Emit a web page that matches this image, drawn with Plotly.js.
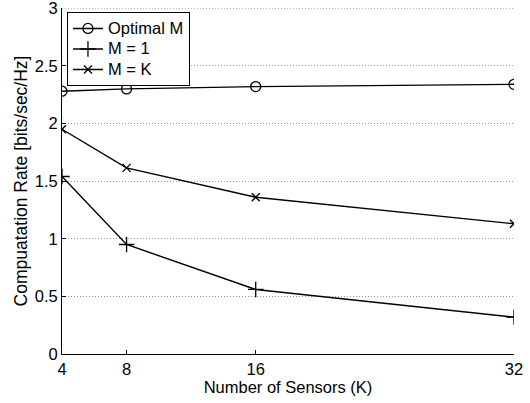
<!DOCTYPE html>
<html><head><meta charset="utf-8">
<script src="https://cdn.plot.ly/plotly-3.0.1.min.js"></script>
<style>html,body{margin:0;padding:0;background:#fff}#chart{width:530px;height:403px}</style>
</head><body><div id="chart"></div>
<script>
const sensors = [4, 8, 16, 32];
const optimalM = [2.28, 2.30, 2.32, 2.34];
const mOne = [1.54, 0.95, 0.56, 0.32];
const mK = [1.95, 1.615, 1.36, 1.13];
const seriesNames = ['Optimal M', 'M = 1', 'M = K'];
const xTicks = [4, 8, 16, 32];
const yTicks = [0, 0.5, 1, 1.5, 2, 2.5, 3];
const yTickText = ['0', '0.5', '1', '1.5', '2', '2.5', '3'];

const lineStyle = {color: '#000', width: 1.4};
const nm = (s) => '<span style="font-size:16.5px">' + s + '</span>';
const traces = [
  {x: sensors, y: optimalM, name: nm(seriesNames[0]), mode: 'lines+markers', line: lineStyle,
   marker: {symbol: 'circle-open', size: 10, color: '#000', line: {width: 1.3, color: '#000'}}},
  {x: sensors, y: mOne, name: nm(seriesNames[1]), mode: 'lines+markers', line: lineStyle,
   marker: {symbol: 'cross-thin-open', size: 11, color: '#000', line: {width: 1.3, color: '#000'}}},
  {x: sensors, y: mK, name: nm(seriesNames[2]), mode: 'lines+markers', line: lineStyle,
   marker: {symbol: 'x-thin-open', size: 8, color: '#000', line: {width: 1.3, color: '#000'}}}
];
const fam = 'Liberation Sans, Arial, sans-serif';
const f = (s) => ({family: fam, color: '#000', size: s});
const yTop = yTicks[yTicks.length - 1];
const layout = {
  width: 530, height: 403,
  margin: {l: 62, r: 16, t: 8, b: 49},
  paper_bgcolor: '#fff', plot_bgcolor: '#fff',
  font: f(16),
  showlegend: true,
  legend: {x: 0.011, y: 0.988, xanchor: 'left', yanchor: 'top', bgcolor: '#fff',
           bordercolor: '#000', borderwidth: 1, font: f(13.5),
           tracegroupgap: 0, itemwidth: 30},
  shapes: [{type: 'line', xref: 'paper', yref: 'y', x0: 0, x1: 1, y0: yTop, y1: yTop,
            layer: 'below', line: {color: '#9a9a9a', width: 1, dash: '1px,2px'}}],
  xaxis: {range: [4, 32], tickvals: xTicks, ticktext: xTicks.map(String), showgrid: false,
          zeroline: false, showline: true, linecolor: '#000', linewidth: 1,
          ticks: 'inside', ticklen: 4, tickcolor: '#000', tickfont: f(16.5),
          ticklabeloverflow: 'allow',
          title: {text: 'Number of Sensors (K)', font: f(16.5), standoff: 1}},
  yaxis: {range: [0, 3.002], tickvals: yTicks, ticktext: yTickText,
          showgrid: true, gridcolor: '#9a9a9a', griddash: '1px,2px', gridwidth: 1,
          zeroline: false, showline: true, linecolor: '#000', linewidth: 1,
          ticks: 'inside', ticklen: 4, tickcolor: '#000', tickfont: f(16.5),
          ticklabeloverflow: 'allow',
          title: {text: 'Compuatation Rate [bits/sec/Hz]', font: f(17.5), standoff: 2}}
};
Plotly.newPlot('chart', traces, layout, {displayModeBar: false, staticPlot: true});
</script></body></html>
